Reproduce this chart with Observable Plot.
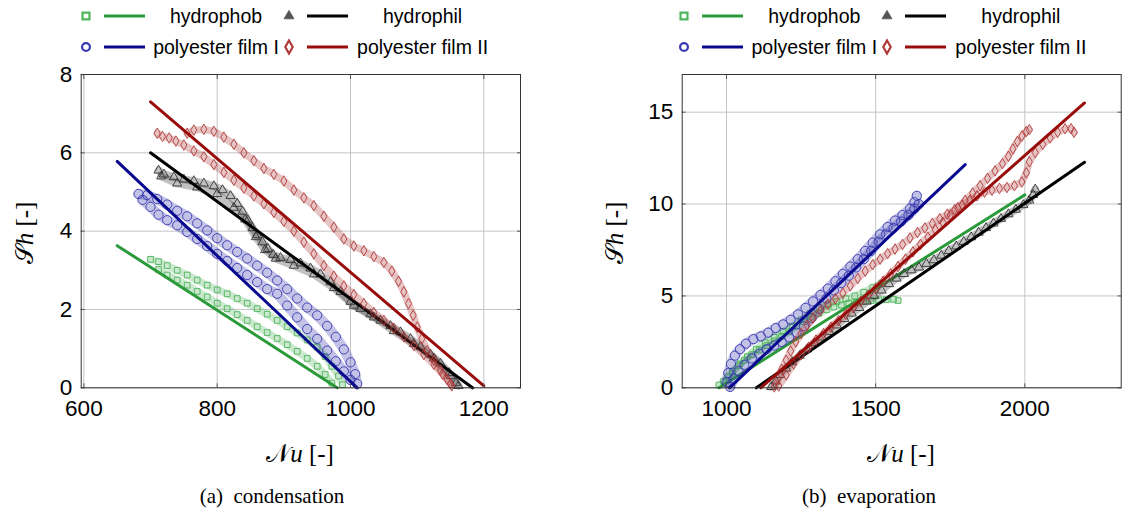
<!DOCTYPE html>
<html><head><meta charset="utf-8">
<script src="https://cdn.jsdelivr.net/npm/d3@7"></script>
<script src="https://cdn.jsdelivr.net/npm/@observablehq/plot@0.6"></script>
<style>
body{margin:0;background:#fff;}
#root{position:relative;width:1140px;height:514px;overflow:hidden;font-family:"Liberation Sans",Arial,sans-serif;color:#000;}
.panel{position:absolute;top:0;width:570px;height:514px;}
.plot{position:absolute;left:0;top:60px;}
.lg{position:absolute;}
.lgtxt{position:absolute;font-size:19.5px;white-space:nowrap;transform:translate(-50%,-50%);}
.ttl{position:absolute;font-family:"Liberation Serif",serif;white-space:nowrap;transform:translate(-50%,-50%);}
.ttl .sc{font-family:"DejaVu Serif","DejaVu Sans","Liberation Serif",serif;font-style:normal;}
.cap{position:absolute;font-family:"Liberation Serif",serif;font-size:21px;white-space:nowrap;transform:translate(-50%,-50%);}
</style></head>
<body><div id="root"></div>
<script>
// ---------- series meta ----------
const seriesNames = ["hydrophob","hydrophil","polyester film I","polyester film II"];
const markerColors = ["#4fb55c","#333333","#3838b0","#b03a3a"];
const lineColors = ["#2b9a3a","#000000","#0a0a8f","#990c0c"];
const symbols = ["square","triangle","circle","diamond"];
const symbolR = [3.2,3.4,4.6,3.2];

// ---------- (a) condensation ----------
const condHydrophobA = [[700,3.28],[712,3.22],[725,3.12],[740,3.0],[755,2.88],[770,2.75],[785,2.62],[800,2.5],[815,2.4],[830,2.28],[845,2.16],[860,2.02],[875,1.88],[890,1.72],[905,1.56],[920,1.4],[935,1.22],[950,1.04],[962,0.8],[972,0.55],[982,0.3],[988,0.08]];
const condHydrophobB = [[712,3.02],[725,2.88],[740,2.75],[755,2.62],[770,2.46],[785,2.32],[800,2.16],[815,2.02],[830,1.87],[845,1.72],[860,1.56],[875,1.41],[890,1.26],[905,1.1],[920,0.93],[935,0.75],[950,0.55],[962,0.34],[972,0.12]];
const condHydrophilA = [[712,5.55],[720,5.45],[735,5.38],[750,5.32],[765,5.28],[780,5.22],[795,5.15],[808,5.05],[820,4.9],[830,4.7],[838,4.5],[846,4.28],[853,4.08],[860,3.9],[868,3.72],[876,3.55],[884,3.4],[895,3.32],[910,3.27],[925,3.18],[940,3.05],[955,2.9],[970,2.7],[985,2.45],[1000,2.2],[1015,2.02],[1030,1.88],[1045,1.72],[1060,1.58],[1075,1.42],[1090,1.25],[1105,1.05],[1120,0.85],[1135,0.62],[1148,0.38],[1158,0.12]];
const condHydrophilB = [[716,5.4],[740,5.22],[770,5.12],[800,4.95],[825,4.6],[842,4.3],[858,3.85],[872,3.52],[888,3.3],[915,3.12],[945,2.9],[975,2.55],[1005,2.1],[1035,1.8],[1065,1.45],[1095,1.12],[1125,0.75],[1150,0.3],[1162,0.05]];
const condFilm1A = [[682,4.95],[695,4.92],[710,4.82],[725,4.68],[740,4.52],[755,4.38],[770,4.2],[785,4.02],[800,3.82],[815,3.64],[830,3.47],[845,3.3],[860,3.12],[875,2.94],[890,2.74],[905,2.52],[920,2.28],[935,2.05],[950,1.85],[965,1.58],[978,1.3],[990,0.98],[1000,0.65],[1007,0.35],[1010,0.1]];
const condFilm1B = [[688,4.8],[700,4.62],[712,4.42],[725,4.28],[740,4.15],[755,3.98],[770,3.8],[785,3.62],[800,3.42],[815,3.24],[830,3.06],[845,2.88],[860,2.7],[875,2.52],[890,2.4],[905,2.1],[920,1.8],[935,1.5],[950,1.25],[965,0.95],[978,0.68],[990,0.42],[1000,0.2]];
const condFilm2A = [[755,6.5],[765,6.58],[780,6.6],[795,6.55],[810,6.4],[825,6.22],[840,6.0],[855,5.8],[870,5.6],[885,5.45],[900,5.28],[915,5.05],[930,4.85],[945,4.65],[960,4.38],[975,4.1],[990,3.8],[1005,3.62],[1020,3.5],[1035,3.35],[1050,3.2],[1062,2.98],[1072,2.72],[1080,2.45],[1087,2.15],[1094,1.85],[1100,1.55],[1107,1.25],[1115,0.95],[1125,0.7],[1135,0.45],[1145,0.22],[1152,0.05]];
const condFilm2B = [[710,6.5],[718,6.42],[728,6.38],[738,6.3],[750,6.2],[765,6.05],[780,5.9],[795,5.7],[810,5.5],[825,5.3],[840,5.1],[855,4.9],[870,4.7],[885,4.48],[900,4.25],[915,4.0],[930,3.72],[945,3.42],[960,3.12],[975,2.85],[990,2.6],[1005,2.38],[1020,2.15],[1035,1.92],[1050,1.72],[1065,1.52],[1080,1.3],[1095,1.08],[1110,0.85],[1125,0.6],[1138,0.35],[1150,0.1]];
const condFits = [[[650,3.63],[980,0]],[[700,6.0],[1183,0]],[[650,5.78],[1010,0]],[[700,7.3],[1200,0.05]]];
const condXTicks = [600,800,1000,1200];
const condYTicks = [0,2,4,6,8];

// ---------- (b) evaporation ----------
const evapHydrophobA = [[975,0.15],[990,0.35],[1005,0.6],[1020,0.9],[1040,1.2],[1060,1.5],[1085,1.8],[1110,2.05],[1135,2.3],[1160,2.55],[1185,2.8],[1210,3.05],[1235,3.35],[1260,3.6],[1285,3.85],[1310,4.05],[1335,4.25],[1360,4.4],[1385,4.5],[1410,4.6],[1435,4.65],[1460,4.7],[1485,4.75],[1510,4.78],[1535,4.8],[1560,4.82],[1575,4.75]];
const evapHydrophobB = [[1000,0.4],[1020,0.8],[1045,1.3],[1070,1.7],[1100,2.1],[1130,2.45],[1160,2.75],[1190,3.05],[1220,3.35],[1250,3.7],[1280,4.05],[1310,4.35],[1340,4.55],[1370,4.7],[1400,4.85],[1430,5.0],[1460,5.2],[1490,5.45],[1520,5.7]];
const evapHydrophil = [[1150,0.05],[1165,0.35],[1180,0.7],[1200,1.05],[1220,1.4],[1245,1.75],[1270,2.1],[1295,2.45],[1320,2.75],[1345,3.05],[1370,3.4],[1395,3.75],[1420,4.05],[1445,4.35],[1470,4.7],[1495,5.0],[1520,5.3],[1545,5.65],[1570,5.95],[1595,6.2],[1620,6.4],[1645,6.55],[1670,6.75],[1695,6.95],[1720,7.2],[1745,7.45],[1770,7.7],[1795,7.95],[1820,8.2],[1845,8.45],[1870,8.7],[1895,8.95],[1920,9.2],[1945,9.45],[1970,9.7],[1995,9.95],[2015,10.2],[2028,10.5],[2035,10.8]];
const evapFilm1A = [[1000,0.3],[1006,0.8],[1015,1.3],[1028,1.75],[1045,2.1],[1065,2.4],[1090,2.65],[1115,2.8],[1140,3.0],[1165,3.25],[1190,3.45],[1215,3.7],[1240,4.0],[1265,4.35],[1290,4.7],[1315,5.05],[1340,5.4],[1365,5.8],[1390,6.2],[1415,6.6],[1440,7.0],[1465,7.45],[1490,7.9],[1515,8.35],[1540,8.75],[1565,9.1],[1590,9.4],[1615,9.75],[1630,10.1],[1638,10.45]];
const evapFilm1B = [[1012,0.05],[1025,0.5],[1040,0.9],[1060,1.25],[1085,1.6],[1110,1.85],[1135,2.1],[1160,2.3],[1185,2.5],[1210,2.75],[1235,3.0],[1260,3.35],[1285,3.8],[1310,4.3],[1335,4.85],[1360,5.3],[1385,5.7],[1410,6.1],[1435,6.55],[1460,7.0],[1485,7.45],[1510,7.95],[1535,8.35],[1560,8.7],[1585,9.05],[1610,9.4],[1630,9.75],[1645,10.0]];
const evapFilm2A = [[1160,0.05],[1172,0.5],[1185,1.0],[1200,1.5],[1215,2.0],[1232,2.5],[1250,2.95],[1270,3.4],[1290,3.8],[1315,4.2],[1340,4.55],[1365,4.85],[1390,5.15],[1415,5.55],[1440,5.95],[1465,6.35],[1490,6.7],[1515,7.0],[1540,7.3],[1565,7.55],[1590,7.8],[1615,8.15],[1640,8.45],[1665,8.7],[1690,8.95],[1715,9.2],[1740,9.45],[1765,9.7],[1790,9.95],[1815,10.2],[1840,10.45],[1865,10.65],[1890,10.75],[1915,10.85],[1940,10.9],[1965,11.0],[1990,11.2],[2005,11.7],[2015,12.3],[2035,12.8],[2060,13.25],[2085,13.6],[2110,13.9],[2135,14.1],[2155,14.1],[2165,13.9]];
const evapFilm2B = [[1175,0.1],[1200,0.7],[1225,1.3],[1250,1.8],[1275,2.2],[1300,2.6],[1325,2.95],[1350,3.3],[1375,3.65],[1400,4.0],[1425,4.35],[1450,4.7],[1475,5.05],[1500,5.4],[1525,5.8],[1550,6.2],[1575,6.6],[1600,7.0],[1625,7.4],[1650,7.8],[1675,8.2],[1700,8.6],[1725,9.0],[1750,9.4],[1775,9.8],[1800,10.2],[1825,10.6],[1850,11.0],[1875,11.4],[1900,11.8],[1925,12.2],[1945,12.6],[1960,13.0],[1975,13.4],[1990,13.7],[2005,13.95],[2015,14.05]];
const evapFits = [[[975,0],[2000,10.5]],[[1100,0],[2200,12.27]],[[1010,0],[1800,12.15]],[[1115,0],[2200,15.5]]];
const evapXTicks = [1000,1500,2000];
const evapYTicks = [0,5,10,15];

const condBranches = [[condHydrophobA,condHydrophobB],[condHydrophilA,condHydrophilB],[condFilm1A,condFilm1B],[condFilm2A,condFilm2B]];
const evapBranches = [[evapHydrophobA,evapHydrophobB],[evapHydrophil],[evapFilm1A,evapFilm1B],[evapFilm2A,evapFilm2B]];

function makePlot(branches, fits, xd, yd, xt, yt, ml, mr) {
  const marks = [
    Plot.gridX(xt, {stroke:"#c4c4c4", strokeOpacity:1, strokeWidth:1}),
    Plot.gridY(yt, {stroke:"#c4c4c4", strokeOpacity:1, strokeWidth:1})
  ];
  branches.forEach((brs, i) => {
    brs.forEach(b => {
      marks.push(Plot.line(b, {x:d=>d[0], y:d=>d[1], stroke:markerColors[i], strokeOpacity:0.3, strokeWidth:symbolR[i]*2+1, curve:"linear"}));
      marks.push(Plot.dot(b, {x:d=>d[0], y:d=>d[1], symbol:symbols[i], r:symbolR[i], stroke:markerColors[i], strokeWidth:1, strokeOpacity:0.9, fill:"none"}));
    });
    marks.push(Plot.line(fits[i], {x:d=>d[0], y:d=>d[1], stroke:lineColors[i], strokeWidth:3}));
  });
  marks.push(
    Plot.axisX(xt, {anchor:"bottom", tickSize:-4, tickPadding:16, stroke:"#555", label:null, fontSize:22.5, tickFormat:d=>String(d)}),
    Plot.axisX(xt, {anchor:"top", tickSize:-4, stroke:"#555", label:null, tickFormat:()=>""}),
    Plot.axisY(yt, {anchor:"left", tickSize:-4, tickPadding:13, stroke:"#555", label:null, fontSize:22.5, tickFormat:d=>String(d)}),
    Plot.axisY(yt, {anchor:"right", tickSize:-4, stroke:"#555", label:null, tickFormat:()=>""}),
    Plot.frame({stroke:"#333", strokeWidth:1})
  );
  return Plot.plot({
    width:570, height:410, marginLeft:ml, marginRight:mr, marginTop:14, marginBottom:82.7,
    x:{domain:xd}, y:{domain:yd},
    style:{fontFamily:"'Liberation Sans', Arial, sans-serif", fontSize:"22.5px", color:"#000", background:"transparent", overflow:"visible"},
    marks
  });
}

const d3Sym = {square:d3.symbolSquare, triangle:d3.symbolTriangle, circle:d3.symbolCircle, diamond:d3.symbolDiamond};
function legendSymbol(i) {
  const filled = symbols[i]==="triangle";
  const s = d3.symbol(d3Sym[symbols[i]], filled ? 42 : 48)();
  return `<path d="${s}" transform="translate(9,9)" fill="${filled?"#555":"none"}" stroke="${filled?"#555":markerColors[i]}" stroke-width="${filled?0.8:2.2}"/>`;
}

function addLegend(panel, m0) {
  seriesNames.forEach((name, i) => {
    const row = i < 2 ? 0 : 1;
    const col = i % 2;
    const cx = m0 + (col ? 203 : 0);
    const cy = row ? 46.7 : 16;
    const box = document.createElement("div");
    box.className = "lg";
    box.style.left = (cx-9)+"px"; box.style.top = (cy-9)+"px";
    box.innerHTML = `<svg width="72" height="18">${legendSymbol(i)}<line x1="27" x2="68" y1="9" y2="9" stroke="${lineColors[i]}" stroke-width="3"/></svg>`;
    panel.appendChild(box);
    const t = document.createElement("div");
    t.className = "lgtxt";
    t.textContent = name;
    t.style.left = (cx + (col ? 133.6 : 130))+"px"; t.style.top = cy+"px";
    panel.appendChild(t);
  });
}

function addText(panel, cls, html, x, y, size, rot) {
  const d = document.createElement("div");
  d.className = cls; d.innerHTML = html;
  d.style.left = x+"px"; d.style.top = y+"px";
  if (size) d.style.fontSize = size+"px";
  if (rot) d.style.transform = "translate(-50%,-50%) rotate(-90deg)";
  panel.appendChild(d);
}

const root = document.getElementById("root");
const specs = [
  {left:0, branches:condBranches, fits:condFits, xd:[596,1255], yd:[0,8], xt:condXTicks, yt:condYTicks, ml:80.7, mr:50, m0:86, yl:25, xl:300, cap:"(a)&ensp;condensation", capx:272},
  {left:570, branches:evapBranches, fits:evapFits, xd:[851.5,2323], yd:[0,17.05], xt:evapXTicks, yt:evapYTicks, ml:111.7, mr:19.3, m0:114.3, yl:45, xl:331, cap:"(b)&ensp;evaporation", capx:299}
];
specs.forEach(s => {
  const p = document.createElement("div");
  p.className = "panel"; p.style.left = s.left+"px";
  root.appendChild(p);
  const wrap = document.createElement("div");
  wrap.className = "plot";
  wrap.appendChild(makePlot(s.branches, s.fits, s.xd, s.yd, s.xt, s.yt, s.ml, s.mr));
  p.appendChild(wrap);
  addLegend(p, s.m0);
  addText(p, "ttl", "<span class='sc'>\u{1D4AE}</span><i>h</i> [-]", s.yl, 233, 25, true);
  addText(p, "ttl", "<span class='sc'>\u{1D4A9}</span><i>u</i> [-]", s.xl, 454, 25);
  addText(p, "cap", s.cap, s.capx, 496);
});
</script>
</body></html>
